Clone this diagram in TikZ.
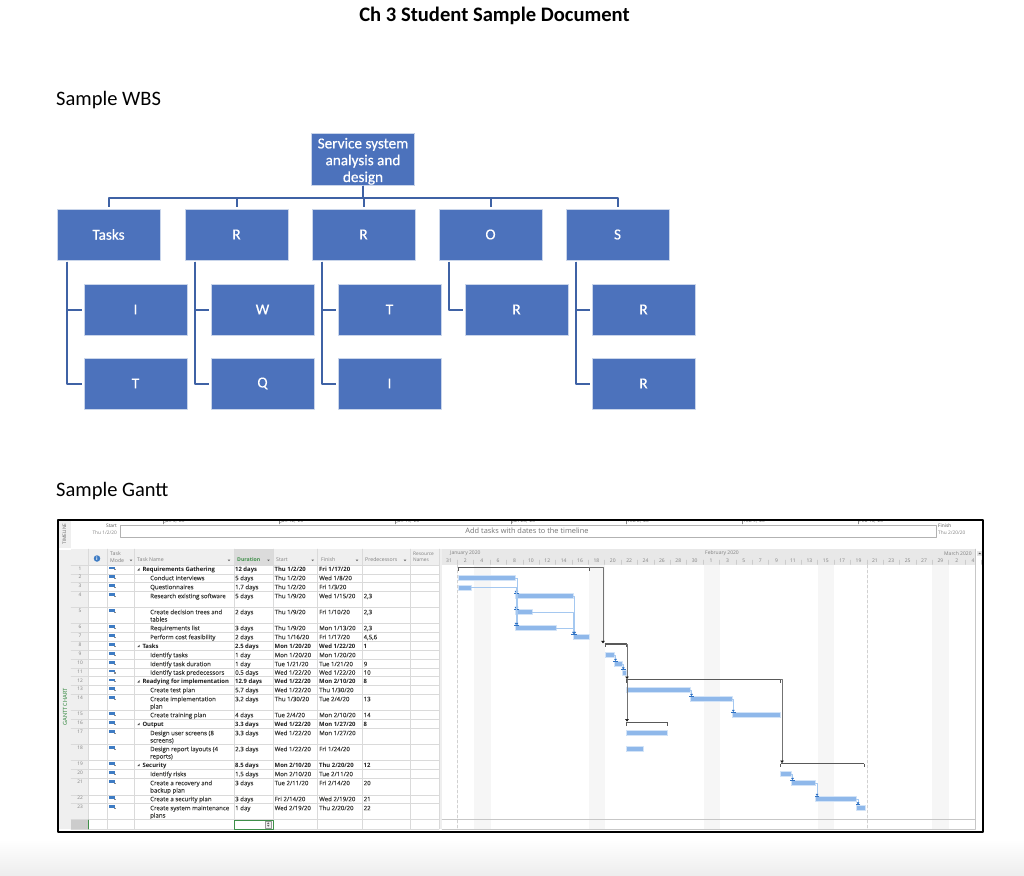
\documentclass[tikz,border=0pt]{standalone}
\usepackage{fontspec}
\setmainfont{Carlito}
\newfontfamily\tablefont{Open Sans}
\newfontfamily\cellfont[FakeBold=0.25]{Open Sans}
\newfontfamily\wbsfont[FakeBold=0.5]{Carlito}
\usetikzlibrary{arrows.meta}

\definecolor{wbsblue}{HTML}{4C72BC}
\definecolor{wbsedge}{HTML}{C9D5EA}
\definecolor{wbsline}{HTML}{3F62A5}
\definecolor{barblue}{HTML}{8FB8EA}
\definecolor{linkblue}{HTML}{A5C8F0}
\definecolor{tipblue}{HTML}{2F72C4}
\definecolor{iconblue}{HTML}{3E7CC4}
\definecolor{headgray}{HTML}{EFEFEF}
\definecolor{gridgray}{HTML}{DADADA}
\definecolor{cellgray}{HTML}{3A3A38}
\definecolor{ganttgreen}{HTML}{3F8F4A}

\tikzset{
  wbsbox/.style={draw=wbsedge,line width=0.6pt,fill=wbsblue,text=white,minimum width=103pt,minimum height=51pt,inner sep=1pt,outer sep=0pt,font=\wbsfont\fontsize{15.2}{16.8}\selectfont,align=center},
  wbslink/.style={draw=wbsline,line width=2pt,line cap=butt,shorten >=2pt},
  cell/.style={anchor=north west,inner sep=0pt,font=\cellfont\fontsize{6.1}{7.3}\selectfont,text=cellgray,align=left},
  sumcell/.style={cell,font=\tablefont\fontsize{5.9}{7.3}\selectfont\bfseries,text=black!90},
  numcell/.style={inner sep=0pt,font=\tablefont\fontsize{4.8}{5}\selectfont,text=gray},
  headcell/.style={anchor=west,inner sep=0pt,font=\tablefont\fontsize{5.2}{6.2}\selectfont,text=gray,align=left},
  scalecell/.style={inner sep=0pt,font=\tablefont\fontsize{5}{5}\selectfont,text=gray},
  ganttbar/.style={fill=barblue,draw=barblue!40,line width=0.3pt,minimum height=5pt,inner sep=0pt,outer sep=0pt,anchor=west},
  sumbar/.style={fill=black!65,minimum height=1.2pt,inner sep=0pt,outer sep=0pt,anchor=west},
  sumlink/.style={draw=black!55,line width=0.9pt,-{Latex[length=2.5pt,width=4pt,color=black!90]}},
  barlink/.style={draw=linkblue,line width=0.7pt,-{Latex[length=2pt,width=3.2pt,color=tipblue]Bar[width=4.5pt,line width=0.6pt,color=tipblue]}},
}

% one row of the task table
\newcommand{\taskrow}[9]{%
  \node[numcell] (num#3) at (80,#4-1) {#3};
  \node[#1] (name#3) at (#2,#4-3.1) {\strut #5};
  \node[#1] (dur#3) at (235,#4-3.1) {\strut #6};
  \node[#1] (start#3) at (274.5,#4-3.1) {\strut #7};
  \node[#1] (finish#3) at (319,#4-3.1) {\strut #8};
  \node[#1] (pred#3) at (363.5,#4-3.1) {\strut #9};
}

\begin{document}
\begin{tikzpicture}[line cap=round,line join=round,x=1pt,y=-1pt]
	\useasboundingbox (0,0) rectangle (1024,875);
	\shade[top color=white,bottom color=black!7] (0,840) rectangle (1024,875);

	%otsikot
	\node (title) at (494.5,15.5) {\fontsize{20.6}{22}\selectfont\bfseries Ch 3 Student Sample Document};
	\node[anchor=west,inner sep=0pt] (wbstitle) at (56,100.5) {\fontsize{20.5}{22}\selectfont Sample WBS};
	\node[anchor=west,inner sep=0pt] (gantttitle) at (56,491.5) {\fontsize{20.5}{22}\selectfont Sample Gantt};

	% WBS
	\node[wbsbox] (root) at (363,159.5) {\rule{0pt}{14pt}Service system\\analysis and\\design};
	\foreach \n/\x/\t in {a/108.5/Tasks,b/236.5/R,c/363.5/R,d/490.5/O,e/617.5/S}
	{
		\node[wbsbox] (\n) at (\x,234.5) {\t};
		\draw[wbslink] (root.south) -- ++(0,12) -| (\n.north);
	}
	\foreach \n/\p/\x/\y/\t in {a1/a/135.5/309.5/I,a2/a/135.5/383.5/T,b1/b/262.5/309.5/W,b2/b/262.5/383.5/Q,c1/c/389.5/309.5/T,c2/c/389.5/383.5/I,d1/d/516.5/309.5/R,e1/e/643.5/309.5/R,e2/e/643.5/383.5/R}
	{
		\node[wbsbox] (\n) at (\x,\y) {\t};
		\draw[wbslink] ([xshift=9.5pt,yshift=-1.5pt]\p.south west) |- (\n.west);
	}

	% Gantt: taustat
	\fill[headgray] (58,521) rectangle (71,548);
	\fill[headgray] (58,550) rectangle (88,829);
	\fill[headgray] (71,549) rectangle (439,565);
	\fill[black!14] (234,549) rectangle (273,565);
	\fill[black!20] (71,820) rectangle (88,829);
	\fill[headgray] (439,549) rectangle (442,829);
	\fill[black!9] (442,549) rectangle (975.5,565);
	\foreach \xa/\xb in {474/491,589/605,704/720,818/834,932/949}
	{\fill[black!3.5] (\xa,565) rectangle (\xb,829);}

	%sivupalkit
	\node[rotate=90,inner sep=0pt,font=\tablefont\fontsize{4.8}{5}\selectfont,text=black!60] (sidetimeline) at (64.5,534) {TIMELINE};
	\node[rotate=90,inner sep=0pt,font=\fontsize{6.4}{7}\selectfont,text=ganttgreen] (sidegantt) at (65,707) {GANTT CHART};

	% aikajana
	\draw[black!30,line width=0.6pt] (120,525) rectangle (936,537);
	\node[inner sep=0pt,font=\tablefont\fontsize{7.4}{8}\selectfont,text=black!55] (addtasks) at (527,531) {Add tasks with dates to the timeline};
	\node[anchor=east,inner sep=0pt,font=\tablefont\fontsize{4.8}{5}\selectfont,text=black!70] (tlstart) at (117,526) {Start};
	\node[anchor=east,inner sep=0pt,font=\tablefont\fontsize{4.8}{5}\selectfont,text=gray] (tlstartdate) at (117,533) {Thu 1/2/20};
	\node[anchor=west,inner sep=0pt,font=\tablefont\fontsize{4.8}{5}\selectfont,text=black!70] (tlfinish) at (938,526) {Finish};
	\node[anchor=west,inner sep=0pt,font=\tablefont\fontsize{4.8}{5}\selectfont,text=gray] (tlfinishdate) at (938,533) {Thu 2/20/20};
	\begin{scope}
		\clip (60,520.5) rectangle (980,540);
		\foreach \x/\t [count=\i] in {163/{Jan 5, '20},279/{Jan 12, '20},395/{Jan 19, '20},510.7/{Jan 26, '20},626/{Feb 2, '20},742/{Feb 9, '20},857.7/{Feb 16, '20}}
		{
			\draw[black!45,line width=0.4pt] (\x,520) -- (\x,524);
			\node[anchor=west,inner sep=0pt,font=\tablefont\fontsize{4.8}{5}\selectfont,text=black!60] (tl\i) at (\x+1.5,521.3) {\t};
		}
	\end{scope}

	%ruudukko
	\foreach \y in {565,573.7,582.5,591.5,607.6,623.6,632.4,641,650,659,668,676.6,685.3,694,710.5,719,728,744,760.5,769,778.5,795,803,819.5,829}
	{\draw[gridgray,line width=0.4pt] (71,\y)--(439,\y);}
	\foreach \x in {88,107,134,234,273,317,362,410,439}
	{\draw[gridgray,line width=0.4pt] (\x,549)--(\x,829);}
	\draw[black!22,line width=0.5pt] (442,819.5)--(975.5,819.5);
	\draw[black!22,line width=0.5pt] (442,829)--(975.5,829);
	\draw[black!22,line width=0.5pt] (975.5,549)--(975.5,829);

	% otsakerivi
	\node[circle,fill=iconblue,text=white,inner sep=0pt,minimum size=6.5pt,font=\tablefont\fontsize{5}{5}\selectfont\bfseries] (info) at (97,558.5) {i};
	\node[headcell] (hmode) at (110,557) {Task\\Mode};
	\node[headcell] (hname) at (137,560) {Task Name};
	\node[headcell,text=ganttgreen,font=\tablefont\fontsize{5.2}{6}\selectfont\bfseries] (hdur) at (237,560) {Duration};
	\node[headcell] (hstart) at (276,560) {Start};
	\node[headcell] (hfinish) at (321,560) {Finish};
	\node[headcell] (hpred) at (365,560) {Predecessors};
	\node[headcell,font=\tablefont\fontsize{4.8}{6}\selectfont] (hres) at (413,557) {Resource\\Names};
	\foreach \x in {131,229,268.5,312.7,357,405}
	{\fill[black!60] (\x-1.4,559.5) -- (\x+1.4,559.5) -- (\x,561.2) -- cycle;}

	% taulukon rivit
	\taskrow{sumcell}{142.3}{1}{569.3}{Requirements Gathering}{12 days}{Thu 1/2/20}{Fri 1/17/20}{}
	\taskrow{cell}{150}{2}{578}{Conduct interviews}{5 days}{Thu 1/2/20}{Wed 1/8/20}{}
	\taskrow{cell}{150}{3}{587}{Questionnaires}{1.7 days}{Thu 1/2/20}{Fri 1/3/20}{}
	\taskrow{cell}{150}{4}{596}{Research existing software}{5 days}{Thu 1/9/20}{Wed 1/15/20}{2,3}
	\taskrow{cell}{150}{5}{612}{Create decision trees and\\tables}{2 days}{Thu 1/9/20}{Fri 1/10/20}{2,3}
	\taskrow{cell}{150}{6}{628}{Requirements list}{3 days}{Thu 1/9/20}{Mon 1/13/20}{2,3}
	\taskrow{cell}{150}{7}{637}{Perform cost feasibility}{2 days}{Thu 1/16/20}{Fri 1/17/20}{4,5,6}
	\taskrow{sumcell}{142.3}{8}{646}{Tasks}{2.5 days}{Mon 1/20/20}{Wed 1/22/20}{1}
	\taskrow{cell}{150}{9}{655}{Identify tasks}{1 day}{Mon 1/20/20}{Mon 1/20/20}{}
	\taskrow{cell}{150}{10}{664}{Identify task duration}{1 day}{Tue 1/21/20}{Tue 1/21/20}{9}
	\taskrow{cell}{150}{11}{672.5}{Identify task predecessors}{0.5 days}{Wed 1/22/20}{Wed 1/22/20}{10}
	\taskrow{sumcell}{142.3}{12}{681.3}{Readying for implementation}{12.9 days}{Wed 1/22/20}{Mon 2/10/20}{8}
	\taskrow{cell}{150}{13}{690}{Create test plan}{5.7 days}{Wed 1/22/20}{Thu 1/30/20}{}
	\taskrow{cell}{150}{14}{699}{Create implementation\\plan}{3.2 days}{Thu 1/30/20}{Tue 2/4/20}{13}
	\taskrow{cell}{150}{15}{715}{Create training plan}{4 days}{Tue 2/4/20}{Mon 2/10/20}{14}
	\taskrow{sumcell}{142.3}{16}{724}{Output}{3.3 days}{Wed 1/22/20}{Mon 1/27/20}{8}
	\taskrow{cell}{150}{17}{733}{Design user screens (8\\screens)}{3.3 days}{Wed 1/22/20}{Mon 1/27/20}{}
	\taskrow{cell}{150}{18}{749}{Design report layouts (4\\reports)}{2.3 days}{Wed 1/22/20}{Fri 1/24/20}{}
	\taskrow{sumcell}{142.3}{19}{765}{Security}{8.5 days}{Mon 2/10/20}{Thu 2/20/20}{12}
	\taskrow{cell}{150}{20}{774}{Identify risks}{1.5 days}{Mon 2/10/20}{Tue 2/11/20}{}
	\taskrow{cell}{150}{21}{783}{Create a recovery and\\backup plan}{3 days}{Tue 2/11/20}{Fri 2/14/20}{20}
	\taskrow{cell}{150}{22}{799}{Create a security plan}{3 days}{Fri 2/14/20}{Wed 2/19/20}{21}
	\taskrow{cell}{150}{23}{808}{Create system maintenance\\plans}{1 day}{Wed 2/19/20}{Thu 2/20/20}{22}

	%ikonit
	\foreach \y in {569.3,578,587,596,612,628,637,646,655,664,672.5,681.3,690,699,715,724,733,749,765,774,783,799,808}
	{
		\fill[iconblue] (109,\y-2.8) rectangle (115,\y-0.4);
		\fill[black!45] (113.5,\y-0.4) rectangle (116,\y+1);
	}
	\foreach \y in {569.3,646,681.3,724,765}
	{\fill[black!70] (139.5,\y-1.2) -- (139.5,\y+1.2) -- (137.3,\y+1.2) -- cycle;}

	% valittu solu
	\draw[ganttgreen,line width=0.8pt] (234,820) rectangle (273,829);
	\draw[ganttgreen,line width=0.8pt] (88,820) -- (88,829);
	\draw[black!40,fill=black!6,line width=0.3pt] (265.5,821) rectangle (271,828);
	\fill[black!60] (267,824) -- (269.5,824) -- (268.25,822.3) -- cycle;
	\fill[black!60] (267,825) -- (269.5,825) -- (268.25,826.7) -- cycle;
	\fill[black!10] (977,551) rectangle (982,556);
	\fill[black!70] (978.3,554.2) -- (981.2,554.2) -- (979.75,552.5) -- cycle;

	% aika-asteikko
	\node[scalecell,anchor=west] (janlabel) at (450,553.5) {January 2020};
	\node[scalecell,anchor=west] (feblabel) at (705,553.5) {February 2020};
	\node[scalecell,anchor=west] (marlabel) at (944,553.5) {March 2020};
	\foreach \t [count=\k from 0] in {31,2,4,6,8,10,12,14,16,18,20,22,24,26,28,30,1,3,5,7,9,11,13,15,17,19,21,23,25,27,29,2,4}
	{
		\node[scalecell] (day\k) at (449+16.38*\k,561) {\t};
		\draw[black!20,line width=0.3pt] (457.2+16.38*\k,560) -- (457.2+16.38*\k,564.5);
	}

	%alku- ja loppuviiva
	\draw[densely dashed,black!18,line width=0.5pt] (457.7,565)--(457.7,829);
	\draw[densely dashed,black!18,line width=0.5pt] (867,565)--(867,829);

	% palkit
	\foreach \n/\xa/\xb/\y in {2/458/515.3/578,3/458/471/587.3,4/515.5/573/596,5/515.5/532/612,6/515.5/556/628,7/572.7/589/637,9/605/614/655,10/614/622/664,11/621.8/625.7/672.5,13/626/690/690,14/690/731.8/699,15/731.8/780.5/715,17/626/667.5/733,18/626/643/749,20/780.5/791/774,21/791/815.5/783,22/815.5/856.5/799,23/856.5/864.7/807.5}
	{\node[ganttbar,minimum width={(\xb-\xa)*1pt}] (bar\n) at (\xa,\y) {};}
	\foreach \n/\xa/\xb/\y in {1/458/589/567.5,8/605/626.5/644,12/626/780.7/679.7,16/626/667.5/722.3,19/780.5/864/763.7}
	{
		\node[sumbar,minimum width={(\xb-\xa)*1pt}] (sum\n) at (\xa,\y) {};
		\draw[black!65,line width=1pt,line cap=butt] (sum\n.west) -- ++(0,3.2);
		\draw[black!65,line width=1pt,line cap=butt] (sum\n.east) -- ++(0,3.2);
	}

	% linkit
	\draw[barlink] (bar2.east) -| ([xshift=1.5pt]bar4.north west);
	\draw[barlink] (bar2.east) -| ([xshift=1.5pt]bar5.north west);
	\draw[barlink] (bar2.east) -| ([xshift=1.5pt]bar6.north west);
	\draw[barlink] (bar3.east) -| ([xshift=0.5pt]bar4.north west);
	\draw[barlink] (bar3.east) -| ([xshift=0.5pt]bar5.north west);
	\draw[barlink] (bar3.east) -| ([xshift=0.5pt]bar6.north west);
	\draw[barlink] (bar4.east) -| ([xshift=2pt]bar7.north west);
	\draw[barlink] (bar5.east) -| ([xshift=1pt]bar7.north west);
	\draw[barlink] (bar6.east) -| ([xshift=1pt]bar7.north west);
	\draw[barlink] (bar9.east) -| ([xshift=1.5pt]bar10.north west);
	\draw[barlink] (bar10.east) -| ([xshift=1.5pt]bar11.north west);
	\draw[barlink] (bar13.east) -| ([xshift=1.5pt]bar14.north west);
	\draw[barlink] (bar14.east) -| ([xshift=1.5pt]bar15.north west);
	\draw[barlink] (bar20.east) -| ([xshift=1.5pt]bar21.north west);
	\draw[barlink] (bar21.east) -| ([xshift=1.5pt]bar22.north west);
	\draw[barlink] (bar22.east) -| ([xshift=1.5pt]bar23.north west);

	\draw[sumlink] (sum1.east) -| ([xshift=-2pt]sum8.north west);
	\draw[sumlink] (sum8.east) -| ([xshift=1pt]sum12.north west);
	\draw[sumlink] ([xshift=1pt]sum12.south west) -- ([xshift=1pt]sum16.north west);
	\draw[sumlink] (sum12.east) -| ([xshift=1.5pt]sum19.north west);

	%kehys
	\draw[black,line width=2pt] (58,520) rectangle (983,832);
\end{tikzpicture}
\end{document}
